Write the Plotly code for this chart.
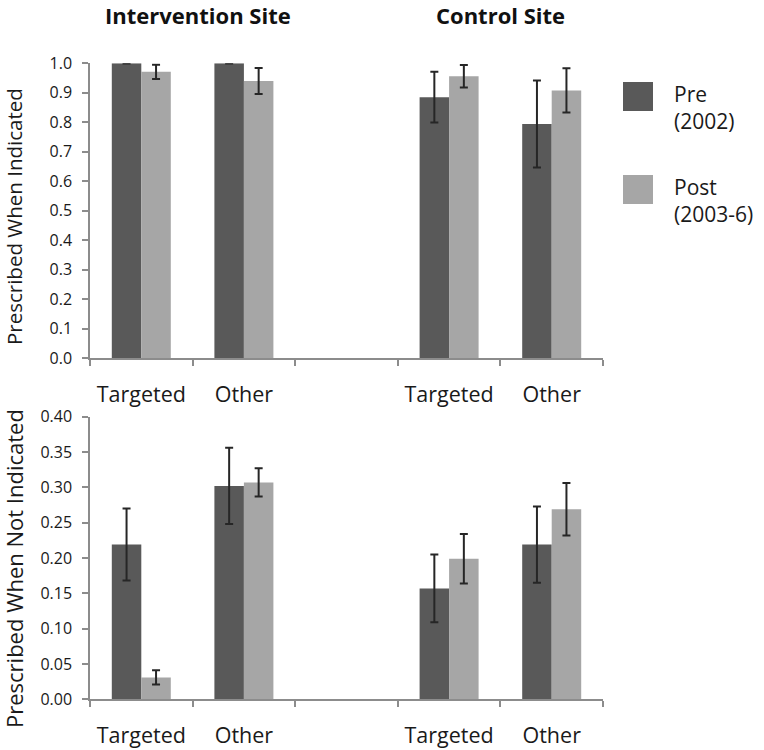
import plotly.graph_objects as go

# ---------------- data ----------------
categories = ["Targeted", "Other", "", "Targeted", "Other"]
bar_positions = [0, 1, 3, 4]          # indexes into categories that carry bars
series_names = ["Pre<br>(2002)", "Post<br>(2003-6)"]
series_colors = ["#595959", "#A6A6A6"]

# Prescribed when indicated (top panel)
ind_pre = [1.000, 1.000, 0.885, 0.794]
ind_pre_err = [0.001, 0.001, 0.086, 0.148]
ind_post = [0.971, 0.940, 0.956, 0.908]
ind_post_err = [0.024, 0.044, 0.038, 0.075]

# Prescribed when not indicated (bottom panel)
not_pre = [0.219, 0.302, 0.157, 0.219]
not_pre_err = [0.051, 0.054, 0.048, 0.054]
not_post = [0.031, 0.307, 0.199, 0.269]
not_post_err = [0.010, 0.020, 0.035, 0.037]

site_titles = ["Intervention Site", "Control Site"]
y_titles = ["Prescribed When Indicated", "Prescribed When Not Indicated"]

# ---------------- figure ----------------
W, H = 764, 750
FONT = "Open Sans"
AXIS_GREY = "#8c8c8c"
ERR_COLOR = "#262626"


def px(x):
    return x / W


def py(y):
    return 1 - y / H


fig = go.Figure()

panels = [
    ("x", "y", [ind_pre, ind_post], [ind_pre_err, ind_post_err]),
    ("x2", "y2", [not_pre, not_post], [not_pre_err, not_post_err]),
]
for xa, ya, vals, errs in panels:
    for i in range(2):
        fig.add_trace(go.Bar(
            x=bar_positions, y=vals[i], name=series_names[i],
            marker=dict(color=series_colors[i], line=dict(width=0)),
            error_y=dict(type="data", array=errs[i], visible=True,
                         color=ERR_COLOR, thickness=2, width=4),
            xaxis=xa, yaxis=ya, showlegend=False,
        ))

x_dom = [px(90), px(603)]
top_dom = [py(358), py(63.3)]
bot_dom = [py(699.3), py(416.7)]

xcommon = dict(
    domain=x_dom, range=[-0.5, len(categories) - 0.5],
    tickmode="array", tickvals=list(range(len(categories))), ticktext=categories,
    ticks="outside", ticklen=16, tickcolor="rgba(0,0,0,0)",
    showline=True, linecolor=AXIS_GREY, linewidth=1.5,
    showgrid=False, zeroline=False, automargin=False,
    tickfont=dict(family=FONT, size=21.5, color="#1a1a1a"),
    minor=dict(tickmode="array",
               tickvals=[k - 0.5 for k in range(len(categories) + 1)],
               ticks="outside", ticklen=6, tickcolor=AXIS_GREY, tickwidth=1.5),
)
ycommon = dict(
    showline=True, linecolor=AXIS_GREY, linewidth=1.5,
    ticks="outside", ticklen=6, tickcolor=AXIS_GREY, tickwidth=1.5,
    ticklabelstandoff=7,
    showgrid=False, zeroline=False, automargin=False,
    tickfont=dict(family=FONT, size=16, color="#1a1a1a"),
)

fig.update_layout(
    width=W, height=H,
    margin=dict(l=0, r=0, t=0, b=0),
    paper_bgcolor="white", plot_bgcolor="white",
    barmode="group", bargap=0.425, bargroupgap=0,
    showlegend=False,
    font=dict(family=FONT, color="#1a1a1a"),
    xaxis=dict(**xcommon, anchor="y"),
    xaxis2=dict(**xcommon, anchor="y2"),
    yaxis=dict(**ycommon, domain=top_dom, range=[0, 1.0], dtick=0.1,
               tickformat=".1f", anchor="x"),
    yaxis2=dict(**ycommon, domain=bot_dom, range=[0, 0.40], dtick=0.05,
                tickformat=".2f", anchor="x2"),
)

annotations = []
# site titles
annotations.append(dict(text="<b>" + site_titles[0] + "</b>", xref="x", yref="paper",
                        x=0.55, y=py(15), xanchor="center", yanchor="middle",
                        showarrow=False, font=dict(family=FONT, size=22, color="#111")))
annotations.append(dict(text="<b>" + site_titles[1] + "</b>", xref="x", yref="paper",
                        x=3.5, y=py(15), xanchor="center", yanchor="middle",
                        showarrow=False, font=dict(family=FONT, size=22, color="#111")))
# y-axis titles
annotations.append(dict(text=y_titles[0], xref="paper", yref="paper",
                        x=px(14), y=py(217), xanchor="center", yanchor="middle",
                        textangle=-90, showarrow=False, borderpad=0,
                        font=dict(family=FONT, size=20.5, color="#1a1a1a")))
annotations.append(dict(text=y_titles[1], xref="paper", yref="paper",
                        x=px(14), y=py(569), xanchor="center", yanchor="middle",
                        textangle=-90, showarrow=False, borderpad=0,
                        font=dict(family=FONT, size=22, color="#1a1a1a")))

# custom legend
shapes = []
legend_boxes = [(82, 111), (175, 204)]
for (y0, y1), name, col in zip(legend_boxes, series_names, series_colors):
    shapes.append(dict(type="rect", xref="paper", yref="paper",
                       x0=px(623), x1=px(653), y0=py(y1), y1=py(y0),
                       fillcolor=col, line=dict(width=0)))
    annotations.append(dict(text=name, xref="paper", yref="paper",
                            x=px(672), y=py(y0 - 4), xanchor="left", yanchor="top",
                            align="left", showarrow=False,
                            font=dict(family=FONT, size=21, color="#1a1a1a")))

fig.update_layout(annotations=annotations, shapes=shapes)

# remove the default page margin so the 764x750 figure fills the window exactly
fig.write_html("out.html",
               config={"displayModeBar": False},
               post_script="document.body.style.margin='0';document.body.style.overflow='hidden';")
